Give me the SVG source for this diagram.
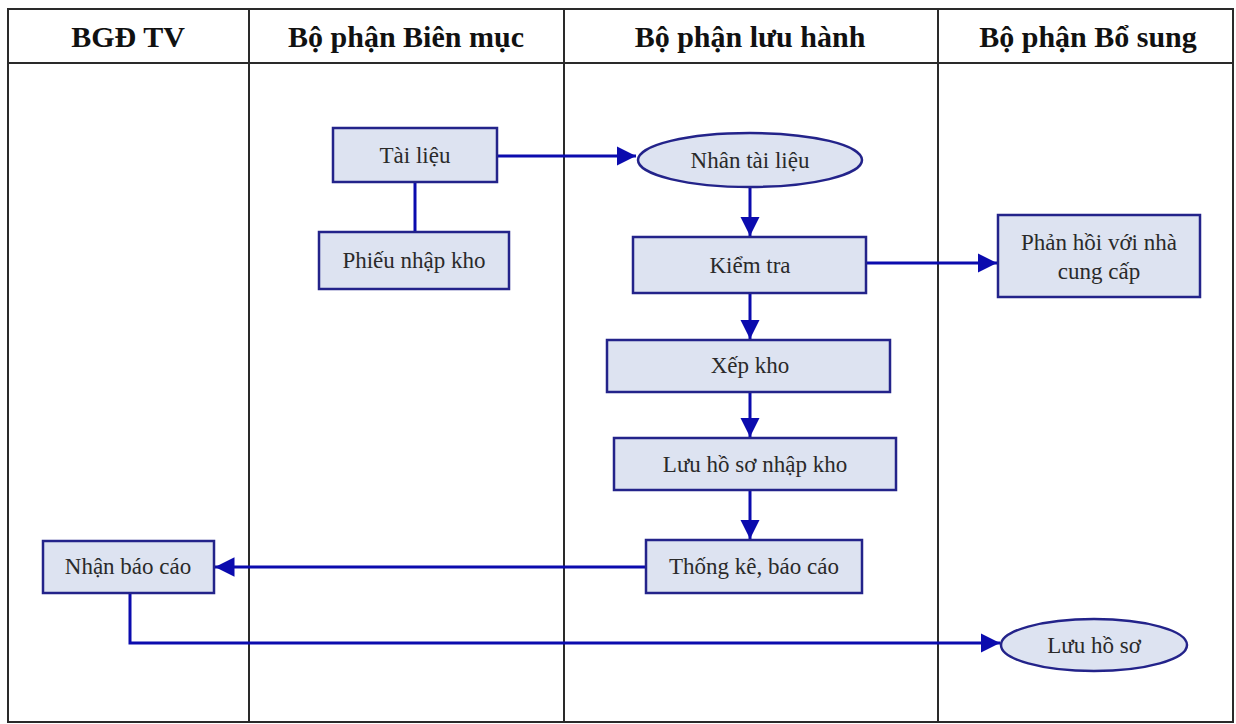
<svg xmlns="http://www.w3.org/2000/svg" width="1236" height="724" viewBox="0 0 1236 724">
<defs>
<style>
.lane{fill:none;stroke:#2a2a2a;stroke-width:2}
.hdr{font-family:"Liberation Serif","Times New Roman",serif;font-weight:bold;font-size:30px;fill:#111;text-anchor:middle}
.node{fill:#dde3f1;stroke:#23238a;stroke-width:2.5}
.lbl{font-family:"Liberation Serif","Times New Roman",serif;font-size:23px;fill:#2a2a2a;text-anchor:middle}
.edge{fill:none;stroke:#0b0bae;stroke-width:3}
</style>
<marker id="ah" viewBox="0 0 10 10" refX="10" refY="5" markerWidth="6.5" markerHeight="6.5" markerUnits="strokeWidth" orient="auto">
<path d="M0,0 L10,5 L0,10 z" fill="#0b0bae"/>
</marker>
</defs>
<rect width="1236" height="724" fill="#fff"/>
<g id="lanes">
<rect class="lane" x="8" y="9" width="1225" height="713"/>
<line class="lane" x1="8" y1="63" x2="1233" y2="63"/>
<line class="lane" x1="249" y1="9" x2="249" y2="722"/>
<line class="lane" x1="564" y1="9" x2="564" y2="722"/>
<line class="lane" x1="938" y1="9" x2="938" y2="722"/>
<text class="hdr" x="128" y="47">BGĐ TV</text>
<text class="hdr" x="406" y="47">Bộ phận Biên mục</text>
<text class="hdr" x="750" y="47">Bộ phận lưu hành</text>
<text class="hdr" x="1088" y="47">Bộ phận Bổ sung</text>
</g>
<g id="connectors">
<path class="edge" d="M497,156 H636" marker-end="url(#ah)"/>
<path class="edge" d="M415,182 V232"/>
<path class="edge" d="M750,187 V236" marker-end="url(#ah)"/>
<path class="edge" d="M866,263 H997" marker-end="url(#ah)"/>
<path class="edge" d="M750,293 V339" marker-end="url(#ah)"/>
<path class="edge" d="M750,392 V437" marker-end="url(#ah)"/>
<path class="edge" d="M750,490 V539" marker-end="url(#ah)"/>
<path class="edge" d="M646,567 H215" marker-end="url(#ah)"/>
<path class="edge" d="M130,593 V643 H1000" marker-end="url(#ah)"/>
</g>
<g id="tai-lieu"><rect class="node" x="333" y="128" width="164" height="54"/><text class="lbl" x="415" y="163">Tài liệu</text></g>
<g id="phieu-nhap-kho"><rect class="node" x="319" y="232" width="190" height="57"/><text class="lbl" x="414" y="268">Phiếu nhập kho</text></g>
<g id="nhan-tai-lieu"><ellipse class="node" cx="750" cy="160" rx="112" ry="27"/><text class="lbl" x="750" y="168">Nhân tài liệu</text></g>
<g id="kiem-tra"><rect class="node" x="633" y="237" width="233" height="56"/><text class="lbl" x="750" y="273">Kiểm tra</text></g>
<g id="phan-hoi"><rect class="node" x="998" y="215" width="202" height="82"/><text class="lbl" x="1099" y="250">Phản hồi với nhà</text><text class="lbl" x="1099" y="279">cung cấp</text></g>
<g id="xep-kho"><rect class="node" x="607" y="340" width="283" height="52"/><text class="lbl" x="750" y="373">Xếp kho</text></g>
<g id="luu-ho-so-nhap-kho"><rect class="node" x="614" y="438" width="282" height="52"/><text class="lbl" x="755" y="472">Lưu hồ sơ nhập kho</text></g>
<g id="thong-ke"><rect class="node" x="646" y="540" width="216" height="53"/><text class="lbl" x="754" y="574">Thống kê, báo cáo</text></g>
<g id="nhan-bao-cao"><rect class="node" x="43" y="541" width="171" height="52"/><text class="lbl" x="128" y="574">Nhận báo cáo</text></g>
<g id="luu-ho-so"><ellipse class="node" cx="1094" cy="645" rx="93" ry="26"/><text class="lbl" x="1094" y="653">Lưu hồ sơ</text></g>
</svg>
